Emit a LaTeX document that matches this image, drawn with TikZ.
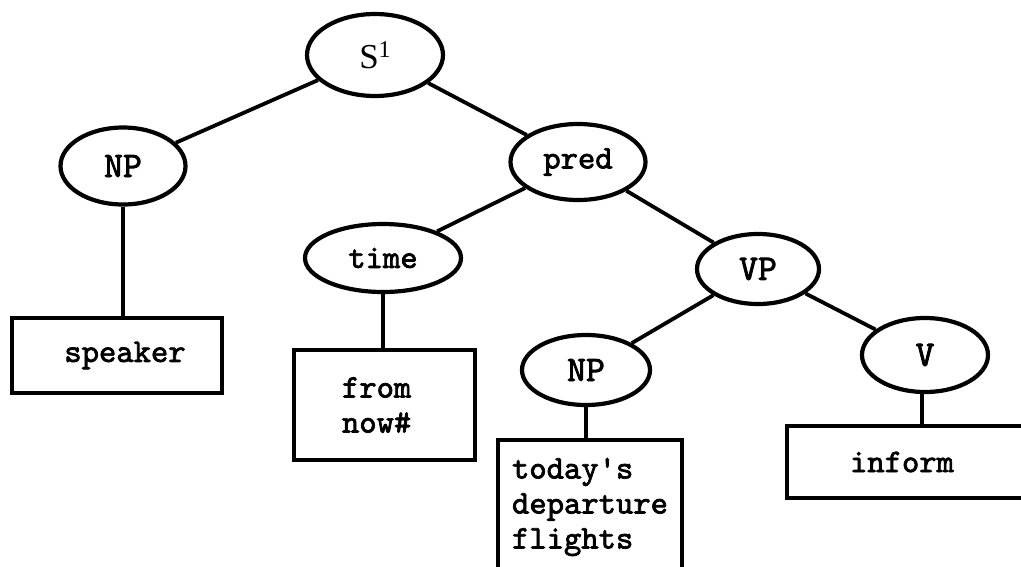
\documentclass[tikz,border=0pt]{standalone}
\usepackage{fontspec}
\setmainfont{Liberation Serif}
\newfontfamily\tw[FakeBold=2.2]{lmmono10-regular.otf}
\usetikzlibrary{shapes.geometric}
\tikzset{
  cat/.style={ellipse, draw, line width=4.2pt, inner sep=0pt, font=\tw\fontsize{33}{36}\selectfont},
  word/.style={rectangle, draw, line width=4.5pt, inner sep=0pt, font=\tw\fontsize{33}{35}\selectfont},
  edge/.style={line width=3.8pt}
}
\begin{document}
\begin{tikzpicture}[x=1pt,y=-1pt]
\useasboundingbox (0,0) rectangle (1021,566);
\clip (0,0) rectangle (1021,566);
\node[cat, minimum width=136pt, minimum height=82pt] (S) at (375,55) {\rmfamily\fontsize{35}{38}\selectfont S\raisebox{11pt}{\fontsize{24}{26}\selectfont 1}};
\node[cat, minimum width=125pt, minimum height=77pt] (NP1) at (123,166) {\fontsize{36}{38}\selectfont NP};
\node[cat, minimum width=135pt, minimum height=76pt] (pred) at (578,162) {pred};
\node[cat, minimum width=156pt, minimum height=68pt] (time) at (383,258) {time};
\node[cat, minimum width=122pt, minimum height=70pt] (VP) at (758,269) {\fontsize{36}{38}\selectfont VP};
\node[cat, minimum width=128pt, minimum height=70pt] (NP2) at (586,370) {\fontsize{36}{38}\selectfont NP};
\node[cat, minimum width=126pt, minimum height=74pt] (V) at (925,355) {\fontsize{36}{38}\selectfont V};
\node[word, minimum width=210pt, minimum height=75pt] (speaker) at (117,355.5) {\hspace*{16pt}speaker};
\node[word, minimum width=181pt, minimum height=110pt, text width=85pt, align=left] (fromnow) at (384.5,405) {from\\now\#};
\node[word, minimum width=184pt, minimum height=134pt, align=left] (today) at (590,507) {today's\\departure\\flights};
\node[word, minimum width=240pt, minimum height=72pt] (inform) at (907,462) {\hspace*{-10pt}inform};
\draw[edge] (S) -- (NP1);
\draw[edge] (S) -- (pred);
\draw[edge] (pred) -- (time);
\draw[edge] (pred) -- (VP);
\draw[edge] (VP) -- (NP2);
\draw[edge] (VP) -- (V);
\draw[edge] (NP1.south) -- (NP1.south |- speaker.north);
\draw[edge] (time.south) -- (time.south |- fromnow.north);
\draw[edge] (NP2.south) -- (NP2.south |- today.north);
\draw[edge] ([xshift=-3pt]V.south) -- ([xshift=-3pt]V.south |- inform.north);
\end{tikzpicture}
\end{document}
